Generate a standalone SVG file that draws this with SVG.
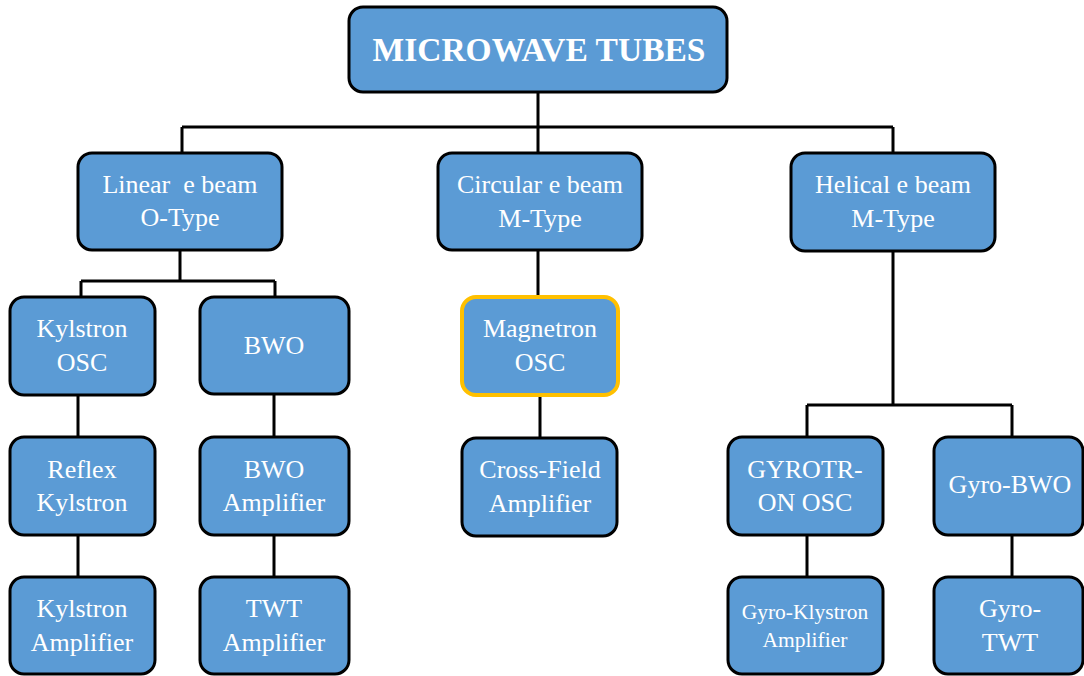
<svg xmlns="http://www.w3.org/2000/svg" width="1084" height="676" viewBox="0 0 1084 676">
<style>
.box{fill:#5B9BD5;stroke:#000;stroke-width:3}
.hl{stroke:#FFC000;stroke-width:4}
.t{font-family:"Liberation Serif","Times New Roman",serif;font-size:26px;fill:#fff;text-anchor:middle;white-space:pre}
.title{font-weight:bold;font-size:33.5px}
.sm{font-size:21.5px}
.conn{fill:none;stroke:#000;stroke-width:3}
</style>
<rect width="1084" height="676" fill="#fff"/>
<g id="connectors" class="conn">
<path d="M538,92 V127 M182,127 H893 M182,127 V153 M538,127 V153 M893,127 V153"/>
<path d="M180,250 V281 M81,281 H275 M81,281 V297 M275,281 V297"/>
<path d="M78,395 V437 M78,535 V577 M274,394 V437 M274,535 V577"/>
<path d="M538,251 V297 M540,395 V438"/>
<path d="M893,252 V405 M807,405 H1012 M807,405 V437 M1012,405 V437 M807,535 V577 M1012,535 V577"/>
</g>
<g id="n-root"><rect class="box" x="349" y="7" width="378" height="85" rx="14"/><text class="t title" x="539" y="61">MICROWAVE TUBES</text></g>
<g id="n-linear"><rect class="box" x="78" y="153" width="204" height="97" rx="14"/><text class="t" x="180" y="193">Linear  e beam</text><text class="t" x="180" y="226">O-Type</text></g>
<g id="n-circular"><rect class="box" x="438" y="153" width="204" height="97" rx="14"/><text class="t" x="540" y="193">Circular e beam</text><text class="t" x="540" y="227">M-Type</text></g>
<g id="n-helical"><rect class="box" x="791" y="153" width="204" height="98" rx="14"/><text class="t" x="893" y="193">Helical e beam</text><text class="t" x="893" y="227">M-Type</text></g>
<g id="n-kosc"><rect class="box" x="10" y="297" width="145" height="98" rx="14"/><text class="t" x="82" y="337">Kylstron</text><text class="t" x="82" y="371">OSC</text></g>
<g id="n-bwo"><rect class="box" x="200" y="297" width="149" height="97" rx="14"/><text class="t" x="274" y="354">BWO</text></g>
<g id="n-magnetron"><rect class="box hl" x="462" y="297" width="156" height="98" rx="14"/><text class="t" x="540" y="337">Magnetron</text><text class="t" x="540" y="371">OSC</text></g>
<g id="n-reflex"><rect class="box" x="10" y="437" width="145" height="98" rx="14"/><text class="t" x="82" y="478">Reflex</text><text class="t" x="82" y="511">Kylstron</text></g>
<g id="n-bwoamp"><rect class="box" x="200" y="437" width="149" height="98" rx="14"/><text class="t" x="274" y="478">BWO</text><text class="t" x="274" y="511">Amplifier</text></g>
<g id="n-crossfield"><rect class="box" x="462" y="438" width="155" height="98" rx="14"/><text class="t" x="540" y="478">Cross-Field</text><text class="t" x="540" y="512">Amplifier</text></g>
<g id="n-gyrotron"><rect class="box" x="728" y="437" width="155" height="98" rx="14"/><text class="t" x="805" y="478">GYROTR-</text><text class="t" x="805" y="511">ON OSC</text></g>
<g id="n-gyrobwo"><rect class="box" x="934" y="437" width="149" height="98" rx="14"/><text class="t" x="1010" y="493">Gyro-BWO</text></g>
<g id="n-kamp"><rect class="box" x="10" y="577" width="145" height="97" rx="14"/><text class="t" x="82" y="617">Kylstron</text><text class="t" x="82" y="651">Amplifier</text></g>
<g id="n-twtamp"><rect class="box" x="200" y="577" width="149" height="97" rx="14"/><text class="t" x="274" y="617">TWT</text><text class="t" x="274" y="651">Amplifier</text></g>
<g id="n-gyroklystron"><rect class="box" x="728" y="577" width="155" height="97" rx="14"/><text class="t sm" x="805" y="619">Gyro-Klystron</text><text class="t sm" x="805" y="647">Amplifier</text></g>
<g id="n-gyrotwt"><rect class="box" x="934" y="577" width="149" height="97" rx="14"/><text class="t" x="1010" y="617">Gyro-</text><text class="t" x="1010" y="651">TWT</text></g>
</svg>
